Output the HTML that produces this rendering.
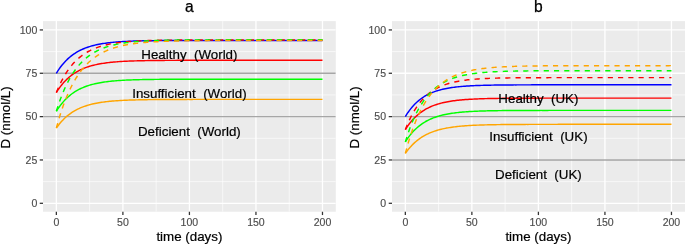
<!DOCTYPE html>
<html><head><meta charset="utf-8"><title>Vitamin D model</title>
<style>
html,body{margin:0;padding:0;background:#fff;}
body{width:685px;height:244px;overflow:hidden;}
svg{display:block;}
text{font-family:"Liberation Sans",Arial,Helvetica,sans-serif;}
.tick{font-size:10.56px;fill:#4D4D4D;stroke:#4D4D4D;stroke-width:0.15px;}
.axt{font-size:13.35px;fill:#000;stroke:#000;stroke-width:0.2px;}
.ttl{font-size:15.6px;fill:#000;stroke:#000;stroke-width:0.25px;}
.ann{font-size:13.35px;fill:#000;stroke:#000;stroke-width:0.2px;white-space:pre;}
</style></head><body>
<svg width="685" height="244" viewBox="0 0 685 244">
<rect width="685" height="244" fill="#fff"/>
<g>
<clipPath id="c0"><rect x="43.03" y="21.10" width="292.74" height="190.65"/></clipPath>
<rect x="43.03" y="21.10" width="292.74" height="190.65" fill="#EBEBEB"/>
<g clip-path="url(#c0)" fill="none">
<line x1="43.03" x2="335.77" y1="181.63" y2="181.63" stroke="#fff" stroke-width="0.65"/>
<line x1="43.03" x2="335.77" y1="138.29" y2="138.29" stroke="#fff" stroke-width="0.65"/>
<line x1="43.03" x2="335.77" y1="94.94" y2="94.94" stroke="#fff" stroke-width="0.65"/>
<line x1="43.03" x2="335.77" y1="51.60" y2="51.60" stroke="#fff" stroke-width="0.65"/>
<line x1="89.62" x2="89.62" y1="21.10" y2="211.75" stroke="#fff" stroke-width="0.65"/>
<line x1="156.16" x2="156.16" y1="21.10" y2="211.75" stroke="#fff" stroke-width="0.65"/>
<line x1="222.69" x2="222.69" y1="21.10" y2="211.75" stroke="#fff" stroke-width="0.65"/>
<line x1="289.21" x2="289.21" y1="21.10" y2="211.75" stroke="#fff" stroke-width="0.65"/>
<line x1="43.03" x2="335.77" y1="203.30" y2="203.30" stroke="#fff" stroke-width="1.3"/>
<line x1="43.03" x2="335.77" y1="159.96" y2="159.96" stroke="#fff" stroke-width="1.3"/>
<line x1="43.03" x2="335.77" y1="116.62" y2="116.62" stroke="#fff" stroke-width="1.3"/>
<line x1="43.03" x2="335.77" y1="73.27" y2="73.27" stroke="#fff" stroke-width="1.3"/>
<line x1="43.03" x2="335.77" y1="29.93" y2="29.93" stroke="#fff" stroke-width="1.3"/>
<line x1="56.36" x2="56.36" y1="21.10" y2="211.75" stroke="#fff" stroke-width="1.3"/>
<line x1="122.89" x2="122.89" y1="21.10" y2="211.75" stroke="#fff" stroke-width="1.3"/>
<line x1="189.42" x2="189.42" y1="21.10" y2="211.75" stroke="#fff" stroke-width="1.3"/>
<line x1="255.95" x2="255.95" y1="21.10" y2="211.75" stroke="#fff" stroke-width="1.3"/>
<line x1="322.48" x2="322.48" y1="21.10" y2="211.75" stroke="#fff" stroke-width="1.3"/>
<line x1="43.03" x2="335.77" y1="73.27" y2="73.27" stroke="#000" stroke-opacity="0.35" stroke-width="1.4"/>
<line x1="43.03" x2="335.77" y1="116.62" y2="116.62" stroke="#000" stroke-opacity="0.35" stroke-width="1.4"/>
<path d="M56.36,73.27 L57.69,71.14 L59.02,69.15 L60.35,67.29 L61.68,65.55 L63.01,63.92 L64.34,62.40 L65.67,60.97 L67.00,59.64 L68.34,58.40 L69.67,57.23 L71.00,56.14 L72.33,55.12 L73.66,54.17 L74.99,53.28 L76.32,52.44 L77.65,51.67 L78.98,50.94 L80.31,50.26 L81.64,49.62 L82.97,49.02 L84.30,48.46 L85.63,47.94 L86.96,47.46 L88.29,47.00 L89.62,46.57 L90.96,46.17 L92.29,45.80 L93.62,45.45 L94.95,45.13 L96.28,44.82 L97.61,44.54 L98.94,44.27 L100.27,44.02 L101.60,43.79 L102.93,43.57 L104.26,43.36 L105.59,43.17 L106.92,42.99 L108.25,42.83 L109.58,42.67 L110.91,42.53 L112.25,42.39 L113.58,42.26 L114.91,42.14 L116.24,42.03 L117.57,41.93 L118.90,41.83 L120.23,41.74 L121.56,41.65 L122.89,41.57 L124.22,41.50 L125.55,41.43 L126.88,41.36 L128.21,41.30 L129.54,41.24 L130.87,41.19 L132.20,41.14 L133.53,41.09 L134.87,41.05 L136.20,41.01 L137.53,40.97 L138.86,40.93 L140.19,40.90 L141.52,40.87 L142.85,40.84 L144.18,40.81 L145.51,40.79 L146.84,40.76 L148.17,40.74 L149.50,40.72 L150.83,40.70 L152.16,40.68 L153.49,40.67 L154.82,40.65 L156.16,40.63 L157.49,40.62 L158.82,40.61 L160.15,40.60 L161.48,40.58 L162.81,40.57 L164.14,40.56 L165.47,40.55 L166.80,40.55 L168.13,40.54 L169.46,40.53 L170.79,40.52 L172.12,40.52 L173.45,40.51 L174.78,40.50 L176.11,40.50 L177.44,40.49 L178.78,40.49 L180.11,40.48 L181.44,40.48 L182.77,40.48 L184.10,40.47 L185.43,40.47 L186.76,40.47 L188.09,40.46 L189.42,40.46 L190.75,40.46 L192.08,40.45 L193.41,40.45 L194.74,40.45 L196.07,40.45 L197.40,40.45 L198.73,40.44 L200.06,40.44 L201.40,40.44 L202.73,40.44 L204.06,40.44 L205.39,40.44 L206.72,40.44 L208.05,40.43 L209.38,40.43 L210.71,40.43 L212.04,40.43 L213.37,40.43 L214.70,40.43 L216.03,40.43 L217.36,40.43 L218.69,40.43 L220.02,40.43 L221.35,40.43 L222.69,40.43 L224.02,40.43 L225.35,40.43 L226.68,40.43 L228.01,40.42 L229.34,40.42 L230.67,40.42 L232.00,40.42 L233.33,40.42 L234.66,40.42 L235.99,40.42 L237.32,40.42 L238.65,40.42 L239.98,40.42 L241.31,40.42 L242.64,40.42 L243.97,40.42 L245.31,40.42 L246.64,40.42 L247.97,40.42 L249.30,40.42 L250.63,40.42 L251.96,40.42 L253.29,40.42 L254.62,40.42 L255.95,40.42 L257.28,40.42 L258.61,40.42 L259.94,40.42 L261.27,40.42 L262.60,40.42 L263.93,40.42 L265.26,40.42 L266.59,40.42 L267.93,40.42 L269.26,40.42 L270.59,40.42 L271.92,40.42 L273.25,40.42 L274.58,40.42 L275.91,40.42 L277.24,40.42 L278.57,40.42 L279.90,40.42 L281.23,40.42 L282.56,40.42 L283.89,40.42 L285.22,40.42 L286.55,40.42 L287.88,40.42 L289.21,40.42 L290.55,40.42 L291.88,40.42 L293.21,40.42 L294.54,40.42 L295.87,40.42 L297.20,40.42 L298.53,40.42 L299.86,40.42 L301.19,40.42 L302.52,40.42 L303.85,40.42 L305.18,40.42 L306.51,40.42 L307.84,40.42 L309.17,40.42 L310.50,40.42 L311.84,40.42 L313.17,40.42 L314.50,40.42 L315.83,40.42 L317.16,40.42 L318.49,40.42 L319.82,40.42 L321.15,40.42 L322.48,40.42" stroke="#0000FF" stroke-width="1.45" stroke-linejoin="round"/>
<path d="M56.36,92.52 L57.69,90.43 L59.02,88.47 L60.35,86.64 L61.68,84.94 L63.01,83.34 L64.34,81.84 L65.67,80.44 L67.00,79.14 L68.34,77.91 L69.67,76.77 L71.00,75.70 L72.33,74.70 L73.66,73.77 L74.99,72.89 L76.32,72.07 L77.65,71.31 L78.98,70.59 L80.31,69.92 L81.64,69.30 L82.97,68.71 L84.30,68.17 L85.63,67.65 L86.96,67.18 L88.29,66.73 L89.62,66.31 L90.96,65.92 L92.29,65.55 L93.62,65.21 L94.95,64.89 L96.28,64.59 L97.61,64.31 L98.94,64.05 L100.27,63.80 L101.60,63.57 L102.93,63.36 L104.26,63.16 L105.59,62.97 L106.92,62.80 L108.25,62.63 L109.58,62.48 L110.91,62.34 L112.25,62.20 L113.58,62.08 L114.91,61.96 L116.24,61.85 L117.57,61.75 L118.90,61.65 L120.23,61.56 L121.56,61.48 L122.89,61.40 L124.22,61.33 L125.55,61.26 L126.88,61.20 L128.21,61.14 L129.54,61.08 L130.87,61.03 L132.20,60.98 L133.53,60.93 L134.87,60.89 L136.20,60.85 L137.53,60.81 L138.86,60.78 L140.19,60.74 L141.52,60.71 L142.85,60.68 L144.18,60.66 L145.51,60.63 L146.84,60.61 L148.17,60.59 L149.50,60.57 L150.83,60.55 L152.16,60.53 L153.49,60.51 L154.82,60.50 L156.16,60.48 L157.49,60.47 L158.82,60.46 L160.15,60.44 L161.48,60.43 L162.81,60.42 L164.14,60.41 L165.47,60.40 L166.80,60.39 L168.13,60.39 L169.46,60.38 L170.79,60.37 L172.12,60.36 L173.45,60.36 L174.78,60.35 L176.11,60.35 L177.44,60.34 L178.78,60.34 L180.11,60.33 L181.44,60.33 L182.77,60.33 L184.10,60.32 L185.43,60.32 L186.76,60.32 L188.09,60.31 L189.42,60.31 L190.75,60.31 L192.08,60.30 L193.41,60.30 L194.74,60.30 L196.07,60.30 L197.40,60.30 L198.73,60.29 L200.06,60.29 L201.40,60.29 L202.73,60.29 L204.06,60.29 L205.39,60.29 L206.72,60.29 L208.05,60.29 L209.38,60.28 L210.71,60.28 L212.04,60.28 L213.37,60.28 L214.70,60.28 L216.03,60.28 L217.36,60.28 L218.69,60.28 L220.02,60.28 L221.35,60.28 L222.69,60.28 L224.02,60.28 L225.35,60.28 L226.68,60.28 L228.01,60.28 L229.34,60.28 L230.67,60.27 L232.00,60.27 L233.33,60.27 L234.66,60.27 L235.99,60.27 L237.32,60.27 L238.65,60.27 L239.98,60.27 L241.31,60.27 L242.64,60.27 L243.97,60.27 L245.31,60.27 L246.64,60.27 L247.97,60.27 L249.30,60.27 L250.63,60.27 L251.96,60.27 L253.29,60.27 L254.62,60.27 L255.95,60.27 L257.28,60.27 L258.61,60.27 L259.94,60.27 L261.27,60.27 L262.60,60.27 L263.93,60.27 L265.26,60.27 L266.59,60.27 L267.93,60.27 L269.26,60.27 L270.59,60.27 L271.92,60.27 L273.25,60.27 L274.58,60.27 L275.91,60.27 L277.24,60.27 L278.57,60.27 L279.90,60.27 L281.23,60.27 L282.56,60.27 L283.89,60.27 L285.22,60.27 L286.55,60.27 L287.88,60.27 L289.21,60.27 L290.55,60.27 L291.88,60.27 L293.21,60.27 L294.54,60.27 L295.87,60.27 L297.20,60.27 L298.53,60.27 L299.86,60.27 L301.19,60.27 L302.52,60.27 L303.85,60.27 L305.18,60.27 L306.51,60.27 L307.84,60.27 L309.17,60.27 L310.50,60.27 L311.84,60.27 L313.17,60.27 L314.50,60.27 L315.83,60.27 L317.16,60.27 L318.49,60.27 L319.82,60.27 L321.15,60.27 L322.48,60.27" stroke="#FF0000" stroke-width="1.45" stroke-linejoin="round"/>
<path d="M56.36,111.24 L57.69,109.16 L59.02,107.22 L60.35,105.40 L61.68,103.70 L63.01,102.11 L64.34,100.62 L65.67,99.23 L67.00,97.93 L68.34,96.72 L69.67,95.58 L71.00,94.52 L72.33,93.52 L73.66,92.59 L74.99,91.72 L76.32,90.91 L77.65,90.15 L78.98,89.44 L80.31,88.77 L81.64,88.15 L82.97,87.57 L84.30,87.02 L85.63,86.51 L86.96,86.04 L88.29,85.59 L89.62,85.17 L90.96,84.79 L92.29,84.42 L93.62,84.08 L94.95,83.76 L96.28,83.46 L97.61,83.19 L98.94,82.93 L100.27,82.68 L101.60,82.45 L102.93,82.24 L104.26,82.04 L105.59,81.86 L106.92,81.68 L108.25,81.52 L109.58,81.37 L110.91,81.22 L112.25,81.09 L113.58,80.97 L114.91,80.85 L116.24,80.74 L117.57,80.64 L118.90,80.54 L120.23,80.45 L121.56,80.37 L122.89,80.29 L124.22,80.22 L125.55,80.15 L126.88,80.09 L128.21,80.03 L129.54,79.97 L130.87,79.92 L132.20,79.87 L133.53,79.83 L134.87,79.78 L136.20,79.74 L137.53,79.71 L138.86,79.67 L140.19,79.64 L141.52,79.61 L142.85,79.58 L144.18,79.55 L145.51,79.53 L146.84,79.50 L148.17,79.48 L149.50,79.46 L150.83,79.44 L152.16,79.42 L153.49,79.41 L154.82,79.39 L156.16,79.38 L157.49,79.36 L158.82,79.35 L160.15,79.34 L161.48,79.33 L162.81,79.32 L164.14,79.31 L165.47,79.30 L166.80,79.29 L168.13,79.28 L169.46,79.27 L170.79,79.27 L172.12,79.26 L173.45,79.26 L174.78,79.25 L176.11,79.24 L177.44,79.24 L178.78,79.23 L180.11,79.23 L181.44,79.23 L182.77,79.22 L184.10,79.22 L185.43,79.22 L186.76,79.21 L188.09,79.21 L189.42,79.21 L190.75,79.20 L192.08,79.20 L193.41,79.20 L194.74,79.20 L196.07,79.20 L197.40,79.19 L198.73,79.19 L200.06,79.19 L201.40,79.19 L202.73,79.19 L204.06,79.19 L205.39,79.18 L206.72,79.18 L208.05,79.18 L209.38,79.18 L210.71,79.18 L212.04,79.18 L213.37,79.18 L214.70,79.18 L216.03,79.18 L217.36,79.18 L218.69,79.18 L220.02,79.18 L221.35,79.17 L222.69,79.17 L224.02,79.17 L225.35,79.17 L226.68,79.17 L228.01,79.17 L229.34,79.17 L230.67,79.17 L232.00,79.17 L233.33,79.17 L234.66,79.17 L235.99,79.17 L237.32,79.17 L238.65,79.17 L239.98,79.17 L241.31,79.17 L242.64,79.17 L243.97,79.17 L245.31,79.17 L246.64,79.17 L247.97,79.17 L249.30,79.17 L250.63,79.17 L251.96,79.17 L253.29,79.17 L254.62,79.17 L255.95,79.17 L257.28,79.17 L258.61,79.17 L259.94,79.17 L261.27,79.17 L262.60,79.17 L263.93,79.17 L265.26,79.17 L266.59,79.17 L267.93,79.17 L269.26,79.17 L270.59,79.17 L271.92,79.17 L273.25,79.17 L274.58,79.17 L275.91,79.17 L277.24,79.17 L278.57,79.17 L279.90,79.17 L281.23,79.17 L282.56,79.17 L283.89,79.17 L285.22,79.17 L286.55,79.17 L287.88,79.17 L289.21,79.17 L290.55,79.17 L291.88,79.17 L293.21,79.17 L294.54,79.17 L295.87,79.17 L297.20,79.17 L298.53,79.17 L299.86,79.17 L301.19,79.17 L302.52,79.17 L303.85,79.17 L305.18,79.17 L306.51,79.17 L307.84,79.17 L309.17,79.17 L310.50,79.17 L311.84,79.17 L313.17,79.17 L314.50,79.17 L315.83,79.17 L317.16,79.17 L318.49,79.17 L319.82,79.17 L321.15,79.17 L322.48,79.17" stroke="#00FF00" stroke-width="1.45" stroke-linejoin="round"/>
<path d="M56.36,128.06 L57.69,126.20 L59.02,124.46 L60.35,122.83 L61.68,121.31 L63.01,119.89 L64.34,118.56 L65.67,117.32 L67.00,116.15 L68.34,115.06 L69.67,114.05 L71.00,113.10 L72.33,112.21 L73.66,111.37 L74.99,110.60 L76.32,109.87 L77.65,109.19 L78.98,108.55 L80.31,107.96 L81.64,107.40 L82.97,106.88 L84.30,106.39 L85.63,105.94 L86.96,105.51 L88.29,105.11 L89.62,104.74 L90.96,104.39 L92.29,104.07 L93.62,103.76 L94.95,103.48 L96.28,103.21 L97.61,102.96 L98.94,102.73 L100.27,102.51 L101.60,102.31 L102.93,102.11 L104.26,101.94 L105.59,101.77 L106.92,101.61 L108.25,101.47 L109.58,101.33 L110.91,101.20 L112.25,101.09 L113.58,100.97 L114.91,100.87 L116.24,100.77 L117.57,100.68 L118.90,100.60 L120.23,100.52 L121.56,100.44 L122.89,100.37 L124.22,100.31 L125.55,100.25 L126.88,100.19 L128.21,100.13 L129.54,100.08 L130.87,100.04 L132.20,99.99 L133.53,99.95 L134.87,99.92 L136.20,99.88 L137.53,99.85 L138.86,99.82 L140.19,99.79 L141.52,99.76 L142.85,99.73 L144.18,99.71 L145.51,99.69 L146.84,99.67 L148.17,99.65 L149.50,99.63 L150.83,99.61 L152.16,99.60 L153.49,99.58 L154.82,99.57 L156.16,99.55 L157.49,99.54 L158.82,99.53 L160.15,99.52 L161.48,99.51 L162.81,99.50 L164.14,99.49 L165.47,99.48 L166.80,99.48 L168.13,99.47 L169.46,99.46 L170.79,99.45 L172.12,99.45 L173.45,99.44 L174.78,99.44 L176.11,99.43 L177.44,99.43 L178.78,99.43 L180.11,99.42 L181.44,99.42 L182.77,99.41 L184.10,99.41 L185.43,99.41 L186.76,99.41 L188.09,99.40 L189.42,99.40 L190.75,99.40 L192.08,99.40 L193.41,99.39 L194.74,99.39 L196.07,99.39 L197.40,99.39 L198.73,99.39 L200.06,99.39 L201.40,99.38 L202.73,99.38 L204.06,99.38 L205.39,99.38 L206.72,99.38 L208.05,99.38 L209.38,99.38 L210.71,99.38 L212.04,99.38 L213.37,99.38 L214.70,99.37 L216.03,99.37 L217.36,99.37 L218.69,99.37 L220.02,99.37 L221.35,99.37 L222.69,99.37 L224.02,99.37 L225.35,99.37 L226.68,99.37 L228.01,99.37 L229.34,99.37 L230.67,99.37 L232.00,99.37 L233.33,99.37 L234.66,99.37 L235.99,99.37 L237.32,99.37 L238.65,99.37 L239.98,99.37 L241.31,99.37 L242.64,99.37 L243.97,99.37 L245.31,99.37 L246.64,99.37 L247.97,99.37 L249.30,99.37 L250.63,99.37 L251.96,99.37 L253.29,99.37 L254.62,99.37 L255.95,99.37 L257.28,99.37 L258.61,99.37 L259.94,99.37 L261.27,99.37 L262.60,99.37 L263.93,99.37 L265.26,99.37 L266.59,99.37 L267.93,99.37 L269.26,99.37 L270.59,99.37 L271.92,99.37 L273.25,99.37 L274.58,99.37 L275.91,99.37 L277.24,99.37 L278.57,99.37 L279.90,99.37 L281.23,99.37 L282.56,99.37 L283.89,99.36 L285.22,99.36 L286.55,99.36 L287.88,99.36 L289.21,99.36 L290.55,99.36 L291.88,99.36 L293.21,99.36 L294.54,99.36 L295.87,99.36 L297.20,99.36 L298.53,99.36 L299.86,99.36 L301.19,99.36 L302.52,99.36 L303.85,99.36 L305.18,99.36 L306.51,99.36 L307.84,99.36 L309.17,99.36 L310.50,99.36 L311.84,99.36 L313.17,99.36 L314.50,99.36 L315.83,99.36 L317.16,99.36 L318.49,99.36 L319.82,99.36 L321.15,99.36 L322.48,99.36" stroke="#FFA500" stroke-width="1.45" stroke-linejoin="round"/>
<path d="M56.36,92.52 L57.69,89.30 L59.02,86.29 L60.35,83.46 L61.68,80.80 L63.01,78.30 L64.34,75.95 L65.67,73.75 L67.00,71.69 L68.34,69.74 L69.67,67.92 L71.00,66.21 L72.33,64.60 L73.66,63.10 L74.99,61.68 L76.32,60.35 L77.65,59.10 L78.98,57.93 L80.31,56.83 L81.64,55.79 L82.97,54.82 L84.30,53.91 L85.63,53.06 L86.96,52.25 L88.29,51.50 L89.62,50.79 L90.96,50.13 L92.29,49.50 L93.62,48.92 L94.95,48.36 L96.28,47.85 L97.61,47.36 L98.94,46.91 L100.27,46.48 L101.60,46.08 L102.93,45.70 L104.26,45.35 L105.59,45.01 L106.92,44.70 L108.25,44.41 L109.58,44.13 L110.91,43.87 L112.25,43.63 L113.58,43.40 L114.91,43.19 L116.24,42.99 L117.57,42.80 L118.90,42.62 L120.23,42.46 L121.56,42.30 L122.89,42.15 L124.22,42.02 L125.55,41.89 L126.88,41.77 L128.21,41.65 L129.54,41.54 L130.87,41.44 L132.20,41.35 L133.53,41.26 L134.87,41.18 L136.20,41.10 L137.53,41.03 L138.86,40.96 L140.19,40.89 L141.52,40.83 L142.85,40.78 L144.18,40.72 L145.51,40.67 L146.84,40.62 L148.17,40.58 L149.50,40.54 L150.83,40.50 L152.16,40.46 L153.49,40.43 L154.82,40.40 L156.16,40.37 L157.49,40.34 L158.82,40.31 L160.15,40.29 L161.48,40.26 L162.81,40.24 L164.14,40.22 L165.47,40.20 L166.80,40.18 L168.13,40.16 L169.46,40.15 L170.79,40.13 L172.12,40.12 L173.45,40.10 L174.78,40.09 L176.11,40.08 L177.44,40.07 L178.78,40.06 L180.11,40.05 L181.44,40.04 L182.77,40.03 L184.10,40.02 L185.43,40.02 L186.76,40.01 L188.09,40.00 L189.42,40.00 L190.75,39.99 L192.08,39.98 L193.41,39.98 L194.74,39.97 L196.07,39.97 L197.40,39.96 L198.73,39.96 L200.06,39.96 L201.40,39.95 L202.73,39.95 L204.06,39.95 L205.39,39.94 L206.72,39.94 L208.05,39.94 L209.38,39.94 L210.71,39.93 L212.04,39.93 L213.37,39.93 L214.70,39.93 L216.03,39.93 L217.36,39.92 L218.69,39.92 L220.02,39.92 L221.35,39.92 L222.69,39.92 L224.02,39.92 L225.35,39.92 L226.68,39.92 L228.01,39.91 L229.34,39.91 L230.67,39.91 L232.00,39.91 L233.33,39.91 L234.66,39.91 L235.99,39.91 L237.32,39.91 L238.65,39.91 L239.98,39.91 L241.31,39.91 L242.64,39.91 L243.97,39.91 L245.31,39.91 L246.64,39.91 L247.97,39.90 L249.30,39.90 L250.63,39.90 L251.96,39.90 L253.29,39.90 L254.62,39.90 L255.95,39.90 L257.28,39.90 L258.61,39.90 L259.94,39.90 L261.27,39.90 L262.60,39.90 L263.93,39.90 L265.26,39.90 L266.59,39.90 L267.93,39.90 L269.26,39.90 L270.59,39.90 L271.92,39.90 L273.25,39.90 L274.58,39.90 L275.91,39.90 L277.24,39.90 L278.57,39.90 L279.90,39.90 L281.23,39.90 L282.56,39.90 L283.89,39.90 L285.22,39.90 L286.55,39.90 L287.88,39.90 L289.21,39.90 L290.55,39.90 L291.88,39.90 L293.21,39.90 L294.54,39.90 L295.87,39.90 L297.20,39.90 L298.53,39.90 L299.86,39.90 L301.19,39.90 L302.52,39.90 L303.85,39.90 L305.18,39.90 L306.51,39.90 L307.84,39.90 L309.17,39.90 L310.50,39.90 L311.84,39.90 L313.17,39.90 L314.50,39.90 L315.83,39.90 L317.16,39.90 L318.49,39.90 L319.82,39.90 L321.15,39.90 L322.48,39.90" stroke="#FF0000" stroke-width="1.45" stroke-dasharray="5.15 5.1" stroke-linejoin="round"/>
<path d="M56.36,111.24 L57.69,107.01 L59.02,103.04 L60.35,99.30 L61.68,95.78 L63.01,92.46 L64.34,89.35 L65.67,86.42 L67.00,83.66 L68.34,81.06 L69.67,78.62 L71.00,76.33 L72.33,74.17 L73.66,72.13 L74.99,70.22 L76.32,68.42 L77.65,66.73 L78.98,65.13 L80.31,63.64 L81.64,62.23 L82.97,60.90 L84.30,59.65 L85.63,58.48 L86.96,57.37 L88.29,56.33 L89.62,55.36 L90.96,54.44 L92.29,53.57 L93.62,52.76 L94.95,51.99 L96.28,51.27 L97.61,50.59 L98.94,49.95 L100.27,49.35 L101.60,48.79 L102.93,48.26 L104.26,47.76 L105.59,47.29 L106.92,46.85 L108.25,46.43 L109.58,46.04 L110.91,45.67 L112.25,45.32 L113.58,45.00 L114.91,44.69 L116.24,44.40 L117.57,44.13 L118.90,43.87 L120.23,43.63 L121.56,43.41 L122.89,43.19 L124.22,42.99 L125.55,42.81 L126.88,42.63 L128.21,42.46 L129.54,42.31 L130.87,42.16 L132.20,42.02 L133.53,41.89 L134.87,41.77 L136.20,41.65 L137.53,41.54 L138.86,41.44 L140.19,41.34 L141.52,41.25 L142.85,41.17 L144.18,41.09 L145.51,41.01 L146.84,40.94 L148.17,40.87 L149.50,40.81 L150.83,40.75 L152.16,40.70 L153.49,40.64 L154.82,40.59 L156.16,40.55 L157.49,40.50 L158.82,40.46 L160.15,40.43 L161.48,40.39 L162.81,40.35 L164.14,40.32 L165.47,40.29 L166.80,40.26 L168.13,40.24 L169.46,40.21 L170.79,40.19 L172.12,40.17 L173.45,40.15 L174.78,40.13 L176.11,40.11 L177.44,40.09 L178.78,40.07 L180.11,40.06 L181.44,40.04 L182.77,40.03 L184.10,40.02 L185.43,40.00 L186.76,39.99 L188.09,39.98 L189.42,39.97 L190.75,39.96 L192.08,39.95 L193.41,39.95 L194.74,39.94 L196.07,39.93 L197.40,39.92 L198.73,39.92 L200.06,39.91 L201.40,39.90 L202.73,39.90 L204.06,39.89 L205.39,39.89 L206.72,39.88 L208.05,39.88 L209.38,39.88 L210.71,39.87 L212.04,39.87 L213.37,39.87 L214.70,39.86 L216.03,39.86 L217.36,39.86 L218.69,39.85 L220.02,39.85 L221.35,39.85 L222.69,39.85 L224.02,39.84 L225.35,39.84 L226.68,39.84 L228.01,39.84 L229.34,39.84 L230.67,39.84 L232.00,39.83 L233.33,39.83 L234.66,39.83 L235.99,39.83 L237.32,39.83 L238.65,39.83 L239.98,39.83 L241.31,39.83 L242.64,39.83 L243.97,39.83 L245.31,39.82 L246.64,39.82 L247.97,39.82 L249.30,39.82 L250.63,39.82 L251.96,39.82 L253.29,39.82 L254.62,39.82 L255.95,39.82 L257.28,39.82 L258.61,39.82 L259.94,39.82 L261.27,39.82 L262.60,39.82 L263.93,39.82 L265.26,39.82 L266.59,39.82 L267.93,39.82 L269.26,39.82 L270.59,39.82 L271.92,39.82 L273.25,39.82 L274.58,39.82 L275.91,39.82 L277.24,39.81 L278.57,39.81 L279.90,39.81 L281.23,39.81 L282.56,39.81 L283.89,39.81 L285.22,39.81 L286.55,39.81 L287.88,39.81 L289.21,39.81 L290.55,39.81 L291.88,39.81 L293.21,39.81 L294.54,39.81 L295.87,39.81 L297.20,39.81 L298.53,39.81 L299.86,39.81 L301.19,39.81 L302.52,39.81 L303.85,39.81 L305.18,39.81 L306.51,39.81 L307.84,39.81 L309.17,39.81 L310.50,39.81 L311.84,39.81 L313.17,39.81 L314.50,39.81 L315.83,39.81 L317.16,39.81 L318.49,39.81 L319.82,39.81 L321.15,39.81 L322.48,39.81" stroke="#00FF00" stroke-width="1.45" stroke-dasharray="5.15 5.1" stroke-linejoin="round"/>
<path d="M56.36,128.06 L57.69,123.21 L59.02,118.62 L60.35,114.30 L61.68,110.21 L63.01,106.35 L64.34,102.70 L65.67,99.25 L67.00,96.00 L68.34,92.92 L69.67,90.02 L71.00,87.28 L72.33,84.68 L73.66,82.24 L74.99,79.92 L76.32,77.74 L77.65,75.68 L78.98,73.73 L80.31,71.89 L81.64,70.15 L82.97,68.51 L84.30,66.95 L85.63,65.49 L86.96,64.11 L88.29,62.80 L89.62,61.56 L90.96,60.40 L92.29,59.29 L93.62,58.25 L94.95,57.27 L96.28,56.34 L97.61,55.46 L98.94,54.63 L100.27,53.85 L101.60,53.11 L102.93,52.41 L104.26,51.75 L105.59,51.13 L106.92,50.54 L108.25,49.99 L109.58,49.46 L110.91,48.96 L112.25,48.50 L113.58,48.05 L114.91,47.63 L116.24,47.24 L117.57,46.87 L118.90,46.51 L120.23,46.18 L121.56,45.87 L122.89,45.57 L124.22,45.29 L125.55,45.02 L126.88,44.77 L128.21,44.54 L129.54,44.31 L130.87,44.10 L132.20,43.90 L133.53,43.72 L134.87,43.54 L136.20,43.37 L137.53,43.21 L138.86,43.06 L140.19,42.92 L141.52,42.79 L142.85,42.66 L144.18,42.54 L145.51,42.43 L146.84,42.32 L148.17,42.22 L149.50,42.13 L150.83,42.04 L152.16,41.95 L153.49,41.87 L154.82,41.80 L156.16,41.72 L157.49,41.66 L158.82,41.59 L160.15,41.53 L161.48,41.48 L162.81,41.42 L164.14,41.37 L165.47,41.32 L166.80,41.28 L168.13,41.23 L169.46,41.19 L170.79,41.16 L172.12,41.12 L173.45,41.09 L174.78,41.05 L176.11,41.02 L177.44,40.99 L178.78,40.97 L180.11,40.94 L181.44,40.92 L182.77,40.90 L184.10,40.87 L185.43,40.85 L186.76,40.83 L188.09,40.82 L189.42,40.80 L190.75,40.78 L192.08,40.77 L193.41,40.75 L194.74,40.74 L196.07,40.73 L197.40,40.71 L198.73,40.70 L200.06,40.69 L201.40,40.68 L202.73,40.67 L204.06,40.66 L205.39,40.65 L206.72,40.65 L208.05,40.64 L209.38,40.63 L210.71,40.62 L212.04,40.62 L213.37,40.61 L214.70,40.60 L216.03,40.60 L217.36,40.59 L218.69,40.59 L220.02,40.58 L221.35,40.58 L222.69,40.58 L224.02,40.57 L225.35,40.57 L226.68,40.56 L228.01,40.56 L229.34,40.56 L230.67,40.56 L232.00,40.55 L233.33,40.55 L234.66,40.55 L235.99,40.55 L237.32,40.54 L238.65,40.54 L239.98,40.54 L241.31,40.54 L242.64,40.54 L243.97,40.53 L245.31,40.53 L246.64,40.53 L247.97,40.53 L249.30,40.53 L250.63,40.53 L251.96,40.53 L253.29,40.52 L254.62,40.52 L255.95,40.52 L257.28,40.52 L258.61,40.52 L259.94,40.52 L261.27,40.52 L262.60,40.52 L263.93,40.52 L265.26,40.52 L266.59,40.52 L267.93,40.52 L269.26,40.52 L270.59,40.51 L271.92,40.51 L273.25,40.51 L274.58,40.51 L275.91,40.51 L277.24,40.51 L278.57,40.51 L279.90,40.51 L281.23,40.51 L282.56,40.51 L283.89,40.51 L285.22,40.51 L286.55,40.51 L287.88,40.51 L289.21,40.51 L290.55,40.51 L291.88,40.51 L293.21,40.51 L294.54,40.51 L295.87,40.51 L297.20,40.51 L298.53,40.51 L299.86,40.51 L301.19,40.51 L302.52,40.51 L303.85,40.51 L305.18,40.51 L306.51,40.51 L307.84,40.51 L309.17,40.51 L310.50,40.51 L311.84,40.51 L313.17,40.51 L314.50,40.51 L315.83,40.51 L317.16,40.51 L318.49,40.51 L319.82,40.51 L321.15,40.51 L322.48,40.51" stroke="#FFA500" stroke-width="1.45" stroke-dasharray="5.15 5.1" stroke-linejoin="round"/>
</g>
<text class="ann" xml:space="preserve" x="189.40" y="59.4" text-anchor="middle">Healthy  (World)</text>
<text class="ann" xml:space="preserve" x="189.40" y="97.6" text-anchor="middle">Insufficient  (World)</text>
<text class="ann" xml:space="preserve" x="189.40" y="135.8" text-anchor="middle">Deficient  (World)</text>
<line x1="39.73" x2="43.03" y1="203.30" y2="203.30" stroke="#333" stroke-width="1.28"/>
<text class="tick" x="37.3" y="207.15" text-anchor="end">0</text>
<line x1="39.73" x2="43.03" y1="159.96" y2="159.96" stroke="#333" stroke-width="1.28"/>
<text class="tick" x="37.3" y="163.81" text-anchor="end">25</text>
<line x1="39.73" x2="43.03" y1="116.62" y2="116.62" stroke="#333" stroke-width="1.28"/>
<text class="tick" x="37.3" y="120.47" text-anchor="end">50</text>
<line x1="39.73" x2="43.03" y1="73.27" y2="73.27" stroke="#333" stroke-width="1.28"/>
<text class="tick" x="37.3" y="77.12" text-anchor="end">75</text>
<line x1="39.73" x2="43.03" y1="29.93" y2="29.93" stroke="#333" stroke-width="1.28"/>
<text class="tick" x="37.3" y="33.78" text-anchor="end">100</text>
<line x1="56.36" x2="56.36" y1="211.75" y2="215.05" stroke="#333" stroke-width="1.28"/>
<text class="tick" x="56.36" y="225.7" text-anchor="middle">0</text>
<line x1="122.89" x2="122.89" y1="211.75" y2="215.05" stroke="#333" stroke-width="1.28"/>
<text class="tick" x="122.89" y="225.7" text-anchor="middle">50</text>
<line x1="189.42" x2="189.42" y1="211.75" y2="215.05" stroke="#333" stroke-width="1.28"/>
<text class="tick" x="189.42" y="225.7" text-anchor="middle">100</text>
<line x1="255.95" x2="255.95" y1="211.75" y2="215.05" stroke="#333" stroke-width="1.28"/>
<text class="tick" x="255.95" y="225.7" text-anchor="middle">150</text>
<line x1="322.48" x2="322.48" y1="211.75" y2="215.05" stroke="#333" stroke-width="1.28"/>
<text class="tick" x="322.48" y="225.7" text-anchor="middle">200</text>
<text class="ttl" x="189.40" y="11.5" text-anchor="middle">a</text>
<text class="axt" x="189.40" y="241.3" text-anchor="middle">time (days)</text>
<text class="axt" transform="translate(9.8,117.42) rotate(-90)" text-anchor="middle">D (nmol/L)</text>
<clipPath id="c1"><rect x="392.03" y="21.10" width="292.97" height="190.65"/></clipPath>
<rect x="392.03" y="21.10" width="292.97" height="190.65" fill="#EBEBEB"/>
<g clip-path="url(#c1)" fill="none">
<line x1="392.03" x2="685.0" y1="181.63" y2="181.63" stroke="#fff" stroke-width="0.65"/>
<line x1="392.03" x2="685.0" y1="138.29" y2="138.29" stroke="#fff" stroke-width="0.65"/>
<line x1="392.03" x2="685.0" y1="94.94" y2="94.94" stroke="#fff" stroke-width="0.65"/>
<line x1="392.03" x2="685.0" y1="51.60" y2="51.60" stroke="#fff" stroke-width="0.65"/>
<line x1="438.60" x2="438.60" y1="21.10" y2="211.75" stroke="#fff" stroke-width="0.65"/>
<line x1="505.13" x2="505.13" y1="21.10" y2="211.75" stroke="#fff" stroke-width="0.65"/>
<line x1="571.66" x2="571.66" y1="21.10" y2="211.75" stroke="#fff" stroke-width="0.65"/>
<line x1="638.19" x2="638.19" y1="21.10" y2="211.75" stroke="#fff" stroke-width="0.65"/>
<line x1="392.03" x2="685.0" y1="203.30" y2="203.30" stroke="#fff" stroke-width="1.3"/>
<line x1="392.03" x2="685.0" y1="159.96" y2="159.96" stroke="#fff" stroke-width="1.3"/>
<line x1="392.03" x2="685.0" y1="116.62" y2="116.62" stroke="#fff" stroke-width="1.3"/>
<line x1="392.03" x2="685.0" y1="73.27" y2="73.27" stroke="#fff" stroke-width="1.3"/>
<line x1="392.03" x2="685.0" y1="29.93" y2="29.93" stroke="#fff" stroke-width="1.3"/>
<line x1="405.34" x2="405.34" y1="21.10" y2="211.75" stroke="#fff" stroke-width="1.3"/>
<line x1="471.87" x2="471.87" y1="21.10" y2="211.75" stroke="#fff" stroke-width="1.3"/>
<line x1="538.40" x2="538.40" y1="21.10" y2="211.75" stroke="#fff" stroke-width="1.3"/>
<line x1="604.93" x2="604.93" y1="21.10" y2="211.75" stroke="#fff" stroke-width="1.3"/>
<line x1="671.46" x2="671.46" y1="21.10" y2="211.75" stroke="#fff" stroke-width="1.3"/>
<line x1="392.03" x2="685.0" y1="116.62" y2="116.62" stroke="#000" stroke-opacity="0.35" stroke-width="1.4"/>
<line x1="392.03" x2="685.0" y1="159.96" y2="159.96" stroke="#000" stroke-opacity="0.35" stroke-width="1.4"/>
<path d="M405.34,116.62 L406.67,114.46 L408.00,112.46 L409.33,110.59 L410.66,108.85 L411.99,107.22 L413.32,105.70 L414.65,104.29 L415.98,102.97 L417.32,101.75 L418.65,100.60 L419.98,99.53 L421.31,98.54 L422.64,97.61 L423.97,96.74 L425.30,95.93 L426.63,95.18 L427.96,94.48 L429.29,93.83 L430.62,93.22 L431.95,92.65 L433.28,92.12 L434.61,91.62 L435.94,91.16 L437.27,90.73 L438.60,90.33 L439.94,89.96 L441.27,89.61 L442.60,89.28 L443.93,88.98 L445.26,88.70 L446.59,88.43 L447.92,88.19 L449.25,87.96 L450.58,87.75 L451.91,87.55 L453.24,87.36 L454.57,87.19 L455.90,87.03 L457.23,86.88 L458.56,86.74 L459.89,86.61 L461.23,86.48 L462.56,86.37 L463.89,86.26 L465.22,86.16 L466.55,86.07 L467.88,85.99 L469.21,85.91 L470.54,85.83 L471.87,85.76 L473.20,85.70 L474.53,85.64 L475.86,85.58 L477.19,85.53 L478.52,85.48 L479.85,85.43 L481.18,85.39 L482.51,85.35 L483.85,85.31 L485.18,85.28 L486.51,85.25 L487.84,85.22 L489.17,85.19 L490.50,85.16 L491.83,85.14 L493.16,85.12 L494.49,85.09 L495.82,85.07 L497.15,85.06 L498.48,85.04 L499.81,85.02 L501.14,85.01 L502.47,84.99 L503.80,84.98 L505.13,84.97 L506.47,84.96 L507.80,84.95 L509.13,84.94 L510.46,84.93 L511.79,84.92 L513.12,84.91 L514.45,84.90 L515.78,84.90 L517.11,84.89 L518.44,84.88 L519.77,84.88 L521.10,84.87 L522.43,84.87 L523.76,84.86 L525.09,84.86 L526.42,84.86 L527.76,84.85 L529.09,84.85 L530.42,84.85 L531.75,84.84 L533.08,84.84 L534.41,84.84 L535.74,84.83 L537.07,84.83 L538.40,84.83 L539.73,84.83 L541.06,84.83 L542.39,84.83 L543.72,84.82 L545.05,84.82 L546.38,84.82 L547.71,84.82 L549.04,84.82 L550.38,84.82 L551.71,84.82 L553.04,84.82 L554.37,84.81 L555.70,84.81 L557.03,84.81 L558.36,84.81 L559.69,84.81 L561.02,84.81 L562.35,84.81 L563.68,84.81 L565.01,84.81 L566.34,84.81 L567.67,84.81 L569.00,84.81 L570.33,84.81 L571.66,84.81 L573.00,84.81 L574.33,84.81 L575.66,84.81 L576.99,84.81 L578.32,84.81 L579.65,84.80 L580.98,84.80 L582.31,84.80 L583.64,84.80 L584.97,84.80 L586.30,84.80 L587.63,84.80 L588.96,84.80 L590.29,84.80 L591.62,84.80 L592.95,84.80 L594.29,84.80 L595.62,84.80 L596.95,84.80 L598.28,84.80 L599.61,84.80 L600.94,84.80 L602.27,84.80 L603.60,84.80 L604.93,84.80 L606.26,84.80 L607.59,84.80 L608.92,84.80 L610.25,84.80 L611.58,84.80 L612.91,84.80 L614.24,84.80 L615.57,84.80 L616.91,84.80 L618.24,84.80 L619.57,84.80 L620.90,84.80 L622.23,84.80 L623.56,84.80 L624.89,84.80 L626.22,84.80 L627.55,84.80 L628.88,84.80 L630.21,84.80 L631.54,84.80 L632.87,84.80 L634.20,84.80 L635.53,84.80 L636.86,84.80 L638.19,84.80 L639.53,84.80 L640.86,84.80 L642.19,84.80 L643.52,84.80 L644.85,84.80 L646.18,84.80 L647.51,84.80 L648.84,84.80 L650.17,84.80 L651.50,84.80 L652.83,84.80 L654.16,84.80 L655.49,84.80 L656.82,84.80 L658.15,84.80 L659.48,84.80 L660.82,84.80 L662.15,84.80 L663.48,84.80 L664.81,84.80 L666.14,84.80 L667.47,84.80 L668.80,84.80 L670.13,84.80 L671.46,84.80" stroke="#0000FF" stroke-width="1.45" stroke-linejoin="round"/>
<path d="M405.34,129.62 L406.67,127.55 L408.00,125.61 L409.33,123.80 L410.66,122.12 L411.99,120.54 L413.32,119.06 L414.65,117.69 L415.98,116.40 L417.32,115.20 L418.65,114.08 L419.98,113.03 L421.31,112.05 L422.64,111.13 L423.97,110.27 L425.30,109.48 L426.63,108.73 L427.96,108.03 L429.29,107.38 L430.62,106.77 L431.95,106.20 L433.28,105.67 L434.61,105.17 L435.94,104.71 L437.27,104.28 L438.60,103.87 L439.94,103.49 L441.27,103.14 L442.60,102.81 L443.93,102.50 L445.26,102.21 L446.59,101.94 L447.92,101.69 L449.25,101.46 L450.58,101.24 L451.91,101.03 L453.24,100.84 L454.57,100.66 L455.90,100.49 L457.23,100.34 L458.56,100.19 L459.89,100.06 L461.23,99.93 L462.56,99.81 L463.89,99.70 L465.22,99.59 L466.55,99.50 L467.88,99.41 L469.21,99.32 L470.54,99.24 L471.87,99.17 L473.20,99.10 L474.53,99.03 L475.86,98.97 L477.19,98.92 L478.52,98.86 L479.85,98.82 L481.18,98.77 L482.51,98.73 L483.85,98.69 L485.18,98.65 L486.51,98.61 L487.84,98.58 L489.17,98.55 L490.50,98.52 L491.83,98.50 L493.16,98.47 L494.49,98.45 L495.82,98.43 L497.15,98.41 L498.48,98.39 L499.81,98.37 L501.14,98.35 L502.47,98.34 L503.80,98.32 L505.13,98.31 L506.47,98.30 L507.80,98.28 L509.13,98.27 L510.46,98.26 L511.79,98.25 L513.12,98.24 L514.45,98.24 L515.78,98.23 L517.11,98.22 L518.44,98.21 L519.77,98.21 L521.10,98.20 L522.43,98.20 L523.76,98.19 L525.09,98.19 L526.42,98.18 L527.76,98.18 L529.09,98.17 L530.42,98.17 L531.75,98.17 L533.08,98.16 L534.41,98.16 L535.74,98.16 L537.07,98.15 L538.40,98.15 L539.73,98.15 L541.06,98.15 L542.39,98.15 L543.72,98.14 L545.05,98.14 L546.38,98.14 L547.71,98.14 L549.04,98.14 L550.38,98.14 L551.71,98.13 L553.04,98.13 L554.37,98.13 L555.70,98.13 L557.03,98.13 L558.36,98.13 L559.69,98.13 L561.02,98.13 L562.35,98.13 L563.68,98.13 L565.01,98.13 L566.34,98.12 L567.67,98.12 L569.00,98.12 L570.33,98.12 L571.66,98.12 L573.00,98.12 L574.33,98.12 L575.66,98.12 L576.99,98.12 L578.32,98.12 L579.65,98.12 L580.98,98.12 L582.31,98.12 L583.64,98.12 L584.97,98.12 L586.30,98.12 L587.63,98.12 L588.96,98.12 L590.29,98.12 L591.62,98.12 L592.95,98.12 L594.29,98.12 L595.62,98.12 L596.95,98.12 L598.28,98.12 L599.61,98.12 L600.94,98.12 L602.27,98.12 L603.60,98.12 L604.93,98.12 L606.26,98.12 L607.59,98.12 L608.92,98.12 L610.25,98.12 L611.58,98.12 L612.91,98.12 L614.24,98.12 L615.57,98.12 L616.91,98.12 L618.24,98.12 L619.57,98.12 L620.90,98.12 L622.23,98.12 L623.56,98.12 L624.89,98.12 L626.22,98.12 L627.55,98.12 L628.88,98.12 L630.21,98.12 L631.54,98.12 L632.87,98.12 L634.20,98.12 L635.53,98.12 L636.86,98.12 L638.19,98.12 L639.53,98.12 L640.86,98.12 L642.19,98.12 L643.52,98.12 L644.85,98.12 L646.18,98.12 L647.51,98.12 L648.84,98.12 L650.17,98.12 L651.50,98.12 L652.83,98.12 L654.16,98.12 L655.49,98.12 L656.82,98.12 L658.15,98.12 L659.48,98.12 L660.82,98.12 L662.15,98.12 L663.48,98.12 L664.81,98.12 L666.14,98.12 L667.47,98.12 L668.80,98.12 L670.13,98.12 L671.46,98.12" stroke="#FF0000" stroke-width="1.45" stroke-linejoin="round"/>
<path d="M405.34,141.93 L406.67,139.85 L408.00,137.91 L409.33,136.10 L410.66,134.41 L411.99,132.83 L413.32,131.36 L414.65,129.98 L415.98,128.69 L417.32,127.48 L418.65,126.36 L419.98,125.31 L421.31,124.33 L422.64,123.41 L423.97,122.55 L425.30,121.75 L426.63,121.00 L427.96,120.30 L429.29,119.65 L430.62,119.04 L431.95,118.47 L433.28,117.94 L434.61,117.44 L435.94,116.98 L437.27,116.54 L438.60,116.14 L439.94,115.76 L441.27,115.40 L442.60,115.07 L443.93,114.77 L445.26,114.48 L446.59,114.21 L447.92,113.95 L449.25,113.72 L450.58,113.50 L451.91,113.29 L453.24,113.10 L454.57,112.92 L455.90,112.76 L457.23,112.60 L458.56,112.45 L459.89,112.32 L461.23,112.19 L462.56,112.07 L463.89,111.96 L465.22,111.85 L466.55,111.76 L467.88,111.67 L469.21,111.58 L470.54,111.50 L471.87,111.43 L473.20,111.36 L474.53,111.29 L475.86,111.23 L477.19,111.18 L478.52,111.12 L479.85,111.07 L481.18,111.03 L482.51,110.98 L483.85,110.94 L485.18,110.91 L486.51,110.87 L487.84,110.84 L489.17,110.81 L490.50,110.78 L491.83,110.75 L493.16,110.73 L494.49,110.71 L495.82,110.68 L497.15,110.66 L498.48,110.64 L499.81,110.63 L501.14,110.61 L502.47,110.59 L503.80,110.58 L505.13,110.57 L506.47,110.55 L507.80,110.54 L509.13,110.53 L510.46,110.52 L511.79,110.51 L513.12,110.50 L514.45,110.49 L515.78,110.49 L517.11,110.48 L518.44,110.47 L519.77,110.46 L521.10,110.46 L522.43,110.45 L523.76,110.45 L525.09,110.44 L526.42,110.44 L527.76,110.43 L529.09,110.43 L530.42,110.43 L531.75,110.42 L533.08,110.42 L534.41,110.42 L535.74,110.41 L537.07,110.41 L538.40,110.41 L539.73,110.41 L541.06,110.40 L542.39,110.40 L543.72,110.40 L545.05,110.40 L546.38,110.40 L547.71,110.40 L549.04,110.39 L550.38,110.39 L551.71,110.39 L553.04,110.39 L554.37,110.39 L555.70,110.39 L557.03,110.39 L558.36,110.39 L559.69,110.39 L561.02,110.38 L562.35,110.38 L563.68,110.38 L565.01,110.38 L566.34,110.38 L567.67,110.38 L569.00,110.38 L570.33,110.38 L571.66,110.38 L573.00,110.38 L574.33,110.38 L575.66,110.38 L576.99,110.38 L578.32,110.38 L579.65,110.38 L580.98,110.38 L582.31,110.38 L583.64,110.38 L584.97,110.38 L586.30,110.38 L587.63,110.38 L588.96,110.38 L590.29,110.38 L591.62,110.38 L592.95,110.38 L594.29,110.38 L595.62,110.38 L596.95,110.38 L598.28,110.38 L599.61,110.38 L600.94,110.38 L602.27,110.38 L603.60,110.37 L604.93,110.37 L606.26,110.37 L607.59,110.37 L608.92,110.37 L610.25,110.37 L611.58,110.37 L612.91,110.37 L614.24,110.37 L615.57,110.37 L616.91,110.37 L618.24,110.37 L619.57,110.37 L620.90,110.37 L622.23,110.37 L623.56,110.37 L624.89,110.37 L626.22,110.37 L627.55,110.37 L628.88,110.37 L630.21,110.37 L631.54,110.37 L632.87,110.37 L634.20,110.37 L635.53,110.37 L636.86,110.37 L638.19,110.37 L639.53,110.37 L640.86,110.37 L642.19,110.37 L643.52,110.37 L644.85,110.37 L646.18,110.37 L647.51,110.37 L648.84,110.37 L650.17,110.37 L651.50,110.37 L652.83,110.37 L654.16,110.37 L655.49,110.37 L656.82,110.37 L658.15,110.37 L659.48,110.37 L660.82,110.37 L662.15,110.37 L663.48,110.37 L664.81,110.37 L666.14,110.37 L667.47,110.37 L668.80,110.37 L670.13,110.37 L671.46,110.37" stroke="#00FF00" stroke-width="1.45" stroke-linejoin="round"/>
<path d="M405.34,153.37 L406.67,151.51 L408.00,149.78 L409.33,148.15 L410.66,146.63 L411.99,145.21 L413.32,143.87 L414.65,142.63 L415.98,141.46 L417.32,140.36 L418.65,139.34 L419.98,138.38 L421.31,137.48 L422.64,136.64 L423.97,135.86 L425.30,135.12 L426.63,134.43 L427.96,133.79 L429.29,133.18 L430.62,132.62 L431.95,132.09 L433.28,131.59 L434.61,131.13 L435.94,130.69 L437.27,130.29 L438.60,129.91 L439.94,129.55 L441.27,129.22 L442.60,128.91 L443.93,128.61 L445.26,128.34 L446.59,128.08 L447.92,127.84 L449.25,127.62 L450.58,127.41 L451.91,127.21 L453.24,127.03 L454.57,126.86 L455.90,126.69 L457.23,126.54 L458.56,126.40 L459.89,126.27 L461.23,126.15 L462.56,126.03 L463.89,125.92 L465.22,125.82 L466.55,125.72 L467.88,125.64 L469.21,125.55 L470.54,125.47 L471.87,125.40 L473.20,125.33 L474.53,125.27 L475.86,125.21 L477.19,125.15 L478.52,125.10 L479.85,125.05 L481.18,125.00 L482.51,124.96 L483.85,124.92 L485.18,124.88 L486.51,124.85 L487.84,124.82 L489.17,124.78 L490.50,124.76 L491.83,124.73 L493.16,124.70 L494.49,124.68 L495.82,124.66 L497.15,124.64 L498.48,124.62 L499.81,124.60 L501.14,124.58 L502.47,124.56 L503.80,124.55 L505.13,124.54 L506.47,124.52 L507.80,124.51 L509.13,124.50 L510.46,124.49 L511.79,124.48 L513.12,124.47 L514.45,124.46 L515.78,124.45 L517.11,124.44 L518.44,124.44 L519.77,124.43 L521.10,124.42 L522.43,124.42 L523.76,124.41 L525.09,124.41 L526.42,124.40 L527.76,124.40 L529.09,124.39 L530.42,124.39 L531.75,124.38 L533.08,124.38 L534.41,124.38 L535.74,124.38 L537.07,124.37 L538.40,124.37 L539.73,124.37 L541.06,124.36 L542.39,124.36 L543.72,124.36 L545.05,124.36 L546.38,124.36 L547.71,124.35 L549.04,124.35 L550.38,124.35 L551.71,124.35 L553.04,124.35 L554.37,124.35 L555.70,124.35 L557.03,124.35 L558.36,124.34 L559.69,124.34 L561.02,124.34 L562.35,124.34 L563.68,124.34 L565.01,124.34 L566.34,124.34 L567.67,124.34 L569.00,124.34 L570.33,124.34 L571.66,124.34 L573.00,124.34 L574.33,124.34 L575.66,124.34 L576.99,124.34 L578.32,124.34 L579.65,124.34 L580.98,124.33 L582.31,124.33 L583.64,124.33 L584.97,124.33 L586.30,124.33 L587.63,124.33 L588.96,124.33 L590.29,124.33 L591.62,124.33 L592.95,124.33 L594.29,124.33 L595.62,124.33 L596.95,124.33 L598.28,124.33 L599.61,124.33 L600.94,124.33 L602.27,124.33 L603.60,124.33 L604.93,124.33 L606.26,124.33 L607.59,124.33 L608.92,124.33 L610.25,124.33 L611.58,124.33 L612.91,124.33 L614.24,124.33 L615.57,124.33 L616.91,124.33 L618.24,124.33 L619.57,124.33 L620.90,124.33 L622.23,124.33 L623.56,124.33 L624.89,124.33 L626.22,124.33 L627.55,124.33 L628.88,124.33 L630.21,124.33 L631.54,124.33 L632.87,124.33 L634.20,124.33 L635.53,124.33 L636.86,124.33 L638.19,124.33 L639.53,124.33 L640.86,124.33 L642.19,124.33 L643.52,124.33 L644.85,124.33 L646.18,124.33 L647.51,124.33 L648.84,124.33 L650.17,124.33 L651.50,124.33 L652.83,124.33 L654.16,124.33 L655.49,124.33 L656.82,124.33 L658.15,124.33 L659.48,124.33 L660.82,124.33 L662.15,124.33 L663.48,124.33 L664.81,124.33 L666.14,124.33 L667.47,124.33 L668.80,124.33 L670.13,124.33 L671.46,124.33" stroke="#FFA500" stroke-width="1.45" stroke-linejoin="round"/>
<path d="M405.34,129.62 L406.67,126.25 L408.00,123.10 L409.33,120.15 L410.66,117.39 L411.99,114.81 L413.32,112.40 L414.65,110.15 L415.98,108.04 L417.32,106.07 L418.65,104.22 L419.98,102.50 L421.31,100.88 L422.64,99.38 L423.97,97.96 L425.30,96.65 L426.63,95.41 L427.96,94.26 L429.29,93.18 L430.62,92.17 L431.95,91.23 L433.28,90.34 L434.61,89.52 L435.94,88.75 L437.27,88.02 L438.60,87.35 L439.94,86.72 L441.27,86.13 L442.60,85.57 L443.93,85.06 L445.26,84.58 L446.59,84.12 L447.92,83.70 L449.25,83.31 L450.58,82.94 L451.91,82.59 L453.24,82.27 L454.57,81.97 L455.90,81.68 L457.23,81.42 L458.56,81.17 L459.89,80.94 L461.23,80.73 L462.56,80.52 L463.89,80.33 L465.22,80.16 L466.55,79.99 L467.88,79.84 L469.21,79.69 L470.54,79.56 L471.87,79.43 L473.20,79.31 L474.53,79.20 L475.86,79.10 L477.19,79.00 L478.52,78.91 L479.85,78.83 L481.18,78.75 L482.51,78.67 L483.85,78.61 L485.18,78.54 L486.51,78.48 L487.84,78.42 L489.17,78.37 L490.50,78.32 L491.83,78.27 L493.16,78.23 L494.49,78.19 L495.82,78.15 L497.15,78.12 L498.48,78.08 L499.81,78.05 L501.14,78.02 L502.47,78.00 L503.80,77.97 L505.13,77.95 L506.47,77.93 L507.80,77.91 L509.13,77.89 L510.46,77.87 L511.79,77.85 L513.12,77.84 L514.45,77.82 L515.78,77.81 L517.11,77.79 L518.44,77.78 L519.77,77.77 L521.10,77.76 L522.43,77.75 L523.76,77.74 L525.09,77.73 L526.42,77.72 L527.76,77.72 L529.09,77.71 L530.42,77.70 L531.75,77.70 L533.08,77.69 L534.41,77.69 L535.74,77.68 L537.07,77.68 L538.40,77.67 L539.73,77.67 L541.06,77.66 L542.39,77.66 L543.72,77.66 L545.05,77.65 L546.38,77.65 L547.71,77.65 L549.04,77.64 L550.38,77.64 L551.71,77.64 L553.04,77.64 L554.37,77.64 L555.70,77.63 L557.03,77.63 L558.36,77.63 L559.69,77.63 L561.02,77.63 L562.35,77.63 L563.68,77.62 L565.01,77.62 L566.34,77.62 L567.67,77.62 L569.00,77.62 L570.33,77.62 L571.66,77.62 L573.00,77.62 L574.33,77.62 L575.66,77.62 L576.99,77.62 L578.32,77.62 L579.65,77.61 L580.98,77.61 L582.31,77.61 L583.64,77.61 L584.97,77.61 L586.30,77.61 L587.63,77.61 L588.96,77.61 L590.29,77.61 L591.62,77.61 L592.95,77.61 L594.29,77.61 L595.62,77.61 L596.95,77.61 L598.28,77.61 L599.61,77.61 L600.94,77.61 L602.27,77.61 L603.60,77.61 L604.93,77.61 L606.26,77.61 L607.59,77.61 L608.92,77.61 L610.25,77.61 L611.58,77.61 L612.91,77.61 L614.24,77.61 L615.57,77.61 L616.91,77.61 L618.24,77.61 L619.57,77.61 L620.90,77.61 L622.23,77.61 L623.56,77.61 L624.89,77.61 L626.22,77.61 L627.55,77.61 L628.88,77.61 L630.21,77.61 L631.54,77.61 L632.87,77.61 L634.20,77.61 L635.53,77.61 L636.86,77.61 L638.19,77.61 L639.53,77.61 L640.86,77.61 L642.19,77.61 L643.52,77.61 L644.85,77.61 L646.18,77.61 L647.51,77.61 L648.84,77.61 L650.17,77.61 L651.50,77.61 L652.83,77.61 L654.16,77.61 L655.49,77.61 L656.82,77.61 L658.15,77.61 L659.48,77.61 L660.82,77.61 L662.15,77.61 L663.48,77.61 L664.81,77.61 L666.14,77.61 L667.47,77.61 L668.80,77.61 L670.13,77.61 L671.46,77.61" stroke="#FF0000" stroke-width="1.45" stroke-dasharray="5.15 5.1" stroke-linejoin="round"/>
<path d="M405.34,141.93 L406.67,137.61 L408.00,133.55 L409.33,129.74 L410.66,126.17 L411.99,122.80 L413.32,119.64 L414.65,116.68 L415.98,113.89 L417.32,111.27 L418.65,108.81 L419.98,106.50 L421.31,104.33 L422.64,102.29 L423.97,100.38 L425.30,98.58 L426.63,96.89 L427.96,95.30 L429.29,93.81 L430.62,92.40 L431.95,91.09 L433.28,89.85 L434.61,88.69 L435.94,87.60 L437.27,86.57 L438.60,85.61 L439.94,84.70 L441.27,83.85 L442.60,83.05 L443.93,82.30 L445.26,81.60 L446.59,80.94 L447.92,80.32 L449.25,79.73 L450.58,79.18 L451.91,78.67 L453.24,78.18 L454.57,77.73 L455.90,77.30 L457.23,76.90 L458.56,76.52 L459.89,76.17 L461.23,75.83 L462.56,75.52 L463.89,75.23 L465.22,74.95 L466.55,74.69 L467.88,74.45 L469.21,74.22 L470.54,74.00 L471.87,73.80 L473.20,73.61 L474.53,73.43 L475.86,73.27 L477.19,73.11 L478.52,72.96 L479.85,72.82 L481.18,72.69 L482.51,72.57 L483.85,72.46 L485.18,72.35 L486.51,72.25 L487.84,72.15 L489.17,72.06 L490.50,71.98 L491.83,71.90 L493.16,71.82 L494.49,71.75 L495.82,71.69 L497.15,71.63 L498.48,71.57 L499.81,71.51 L501.14,71.46 L502.47,71.42 L503.80,71.37 L505.13,71.33 L506.47,71.29 L507.80,71.25 L509.13,71.22 L510.46,71.18 L511.79,71.15 L513.12,71.12 L514.45,71.10 L515.78,71.07 L517.11,71.05 L518.44,71.02 L519.77,71.00 L521.10,70.98 L522.43,70.96 L523.76,70.95 L525.09,70.93 L526.42,70.91 L527.76,70.90 L529.09,70.88 L530.42,70.87 L531.75,70.86 L533.08,70.85 L534.41,70.84 L535.74,70.83 L537.07,70.82 L538.40,70.81 L539.73,70.80 L541.06,70.79 L542.39,70.79 L543.72,70.78 L545.05,70.77 L546.38,70.77 L547.71,70.76 L549.04,70.76 L550.38,70.75 L551.71,70.75 L553.04,70.74 L554.37,70.74 L555.70,70.73 L557.03,70.73 L558.36,70.73 L559.69,70.72 L561.02,70.72 L562.35,70.72 L563.68,70.71 L565.01,70.71 L566.34,70.71 L567.67,70.71 L569.00,70.70 L570.33,70.70 L571.66,70.70 L573.00,70.70 L574.33,70.70 L575.66,70.70 L576.99,70.69 L578.32,70.69 L579.65,70.69 L580.98,70.69 L582.31,70.69 L583.64,70.69 L584.97,70.69 L586.30,70.69 L587.63,70.69 L588.96,70.68 L590.29,70.68 L591.62,70.68 L592.95,70.68 L594.29,70.68 L595.62,70.68 L596.95,70.68 L598.28,70.68 L599.61,70.68 L600.94,70.68 L602.27,70.68 L603.60,70.68 L604.93,70.68 L606.26,70.68 L607.59,70.68 L608.92,70.68 L610.25,70.68 L611.58,70.68 L612.91,70.68 L614.24,70.68 L615.57,70.68 L616.91,70.68 L618.24,70.68 L619.57,70.67 L620.90,70.67 L622.23,70.67 L623.56,70.67 L624.89,70.67 L626.22,70.67 L627.55,70.67 L628.88,70.67 L630.21,70.67 L631.54,70.67 L632.87,70.67 L634.20,70.67 L635.53,70.67 L636.86,70.67 L638.19,70.67 L639.53,70.67 L640.86,70.67 L642.19,70.67 L643.52,70.67 L644.85,70.67 L646.18,70.67 L647.51,70.67 L648.84,70.67 L650.17,70.67 L651.50,70.67 L652.83,70.67 L654.16,70.67 L655.49,70.67 L656.82,70.67 L658.15,70.67 L659.48,70.67 L660.82,70.67 L662.15,70.67 L663.48,70.67 L664.81,70.67 L666.14,70.67 L667.47,70.67 L668.80,70.67 L670.13,70.67 L671.46,70.67" stroke="#00FF00" stroke-width="1.45" stroke-dasharray="5.15 5.1" stroke-linejoin="round"/>
<path d="M405.34,153.37 L406.67,148.38 L408.00,143.68 L409.33,139.25 L410.66,135.07 L411.99,131.12 L413.32,127.40 L414.65,123.89 L415.98,120.58 L417.32,117.46 L418.65,114.52 L419.98,111.74 L421.31,109.12 L422.64,106.65 L423.97,104.32 L425.30,102.12 L426.63,100.05 L427.96,98.09 L429.29,96.25 L430.62,94.51 L431.95,92.87 L433.28,91.32 L434.61,89.86 L435.94,88.49 L437.27,87.19 L438.60,85.97 L439.94,84.81 L441.27,83.72 L442.60,82.70 L443.93,81.73 L445.26,80.81 L446.59,79.95 L447.92,79.14 L449.25,78.37 L450.58,77.65 L451.91,76.97 L453.24,76.32 L454.57,75.72 L455.90,75.14 L457.23,74.60 L458.56,74.09 L459.89,73.61 L461.23,73.16 L462.56,72.73 L463.89,72.33 L465.22,71.95 L466.55,71.59 L467.88,71.26 L469.21,70.94 L470.54,70.64 L471.87,70.35 L473.20,70.08 L474.53,69.83 L475.86,69.59 L477.19,69.37 L478.52,69.16 L479.85,68.96 L481.18,68.77 L482.51,68.59 L483.85,68.42 L485.18,68.27 L486.51,68.12 L487.84,67.98 L489.17,67.84 L490.50,67.72 L491.83,67.60 L493.16,67.49 L494.49,67.39 L495.82,67.29 L497.15,67.19 L498.48,67.11 L499.81,67.02 L501.14,66.94 L502.47,66.87 L503.80,66.80 L505.13,66.73 L506.47,66.67 L507.80,66.61 L509.13,66.56 L510.46,66.51 L511.79,66.46 L513.12,66.41 L514.45,66.37 L515.78,66.33 L517.11,66.29 L518.44,66.25 L519.77,66.22 L521.10,66.18 L522.43,66.15 L523.76,66.13 L525.09,66.10 L526.42,66.07 L527.76,66.05 L529.09,66.02 L530.42,66.00 L531.75,65.98 L533.08,65.96 L534.41,65.95 L535.74,65.93 L537.07,65.91 L538.40,65.90 L539.73,65.88 L541.06,65.87 L542.39,65.86 L543.72,65.84 L545.05,65.83 L546.38,65.82 L547.71,65.81 L549.04,65.80 L550.38,65.79 L551.71,65.78 L553.04,65.78 L554.37,65.77 L555.70,65.76 L557.03,65.76 L558.36,65.75 L559.69,65.74 L561.02,65.74 L562.35,65.73 L563.68,65.73 L565.01,65.72 L566.34,65.72 L567.67,65.71 L569.00,65.71 L570.33,65.71 L571.66,65.70 L573.00,65.70 L574.33,65.70 L575.66,65.69 L576.99,65.69 L578.32,65.69 L579.65,65.69 L580.98,65.68 L582.31,65.68 L583.64,65.68 L584.97,65.68 L586.30,65.67 L587.63,65.67 L588.96,65.67 L590.29,65.67 L591.62,65.67 L592.95,65.67 L594.29,65.67 L595.62,65.66 L596.95,65.66 L598.28,65.66 L599.61,65.66 L600.94,65.66 L602.27,65.66 L603.60,65.66 L604.93,65.66 L606.26,65.66 L607.59,65.66 L608.92,65.66 L610.25,65.65 L611.58,65.65 L612.91,65.65 L614.24,65.65 L615.57,65.65 L616.91,65.65 L618.24,65.65 L619.57,65.65 L620.90,65.65 L622.23,65.65 L623.56,65.65 L624.89,65.65 L626.22,65.65 L627.55,65.65 L628.88,65.65 L630.21,65.65 L631.54,65.65 L632.87,65.65 L634.20,65.65 L635.53,65.65 L636.86,65.65 L638.19,65.65 L639.53,65.65 L640.86,65.65 L642.19,65.65 L643.52,65.65 L644.85,65.65 L646.18,65.65 L647.51,65.65 L648.84,65.65 L650.17,65.65 L651.50,65.65 L652.83,65.65 L654.16,65.65 L655.49,65.65 L656.82,65.65 L658.15,65.65 L659.48,65.65 L660.82,65.65 L662.15,65.65 L663.48,65.65 L664.81,65.65 L666.14,65.65 L667.47,65.65 L668.80,65.65 L670.13,65.64 L671.46,65.64" stroke="#FFA500" stroke-width="1.45" stroke-dasharray="5.15 5.1" stroke-linejoin="round"/>
</g>
<text class="ann" xml:space="preserve" x="538.40" y="102.6" text-anchor="middle">Healthy  (UK)</text>
<text class="ann" xml:space="preserve" x="538.40" y="140.9" text-anchor="middle">Insufficient  (UK)</text>
<text class="ann" xml:space="preserve" x="538.40" y="179.0" text-anchor="middle">Deficient  (UK)</text>
<line x1="388.73" x2="392.03" y1="203.30" y2="203.30" stroke="#333" stroke-width="1.28"/>
<text class="tick" x="386.1" y="207.15" text-anchor="end">0</text>
<line x1="388.73" x2="392.03" y1="159.96" y2="159.96" stroke="#333" stroke-width="1.28"/>
<text class="tick" x="386.1" y="163.81" text-anchor="end">25</text>
<line x1="388.73" x2="392.03" y1="116.62" y2="116.62" stroke="#333" stroke-width="1.28"/>
<text class="tick" x="386.1" y="120.47" text-anchor="end">50</text>
<line x1="388.73" x2="392.03" y1="73.27" y2="73.27" stroke="#333" stroke-width="1.28"/>
<text class="tick" x="386.1" y="77.12" text-anchor="end">75</text>
<line x1="388.73" x2="392.03" y1="29.93" y2="29.93" stroke="#333" stroke-width="1.28"/>
<text class="tick" x="386.1" y="33.78" text-anchor="end">100</text>
<line x1="405.34" x2="405.34" y1="211.75" y2="215.05" stroke="#333" stroke-width="1.28"/>
<text class="tick" x="405.34" y="225.7" text-anchor="middle">0</text>
<line x1="471.87" x2="471.87" y1="211.75" y2="215.05" stroke="#333" stroke-width="1.28"/>
<text class="tick" x="471.87" y="225.7" text-anchor="middle">50</text>
<line x1="538.40" x2="538.40" y1="211.75" y2="215.05" stroke="#333" stroke-width="1.28"/>
<text class="tick" x="538.40" y="225.7" text-anchor="middle">100</text>
<line x1="604.93" x2="604.93" y1="211.75" y2="215.05" stroke="#333" stroke-width="1.28"/>
<text class="tick" x="604.93" y="225.7" text-anchor="middle">150</text>
<line x1="671.46" x2="671.46" y1="211.75" y2="215.05" stroke="#333" stroke-width="1.28"/>
<text class="tick" x="671.46" y="225.7" text-anchor="middle">200</text>
<text class="ttl" x="538.40" y="11.5" text-anchor="middle">b</text>
<text class="axt" x="538.40" y="241.3" text-anchor="middle">time (days)</text>
<text class="axt" transform="translate(358.6,117.42) rotate(-90)" text-anchor="middle">D (nmol/L)</text>
</g></svg></body></html>
